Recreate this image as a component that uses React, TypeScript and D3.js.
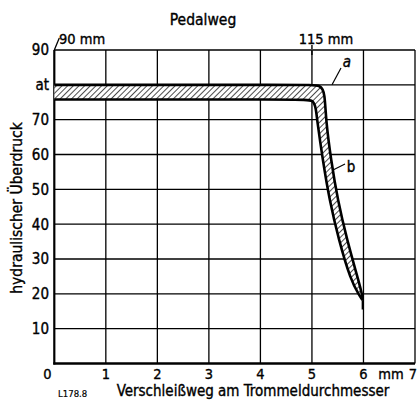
import * as d3 from 'd3';

const width = 417;
const height = 400;

// grid / tick values
const xTicks = [0, 1, 2, 3, 4, 5, 6, 7];
const yTicks = [10, 20, 30, 40, 50, 60, 70, 80, 90];
const yLabels = ['10', '20', '30', '40', '50', '60', '70', 'at', '90'];
const xLabels = ['0', '1', '2', '3', '4', '5', '6', '7'];

// upper boundary (a) and lower boundary (b) of the hatched band
const curveA: [number, number][] = [
  [0, 80], [4.9, 80], [5.18, 80], [5.25, 77.5], [5.27, 70],
  [5.37, 58.4], [5.5, 46.9], [5.68, 35.5], [5.9, 24], [5.98, 19.5], [5.98, 18.2],
];
const curveB: [number, number][] = [
  [0, 75.8], [4.85, 75.8], [5.03, 75.7], [5.08, 73], [5.1, 69.9],
  [5.21, 58.4], [5.34, 46.9], [5.52, 35.5], [5.75, 24], [5.92, 19.5], [5.98, 18.2],
];
const tip: [number, number][] = [[5.98, 18.2], [5.98, 15.5]];

const font = '"DejaVu Sans Condensed", "DejaVu Sans", sans-serif';

function App() {
  const x = d3.scaleLinear().domain([0, 7]).range([54.3, 415]);
  const y = d3.scaleLinear().domain([0, 90]).range([363.5, 50]);

  const line = d3
    .line<[number, number]>()
    .x(d => x(d[0]))
    .y(d => y(d[1]))
    .curve(d3.curveBasis);

  const band = line(curveA) + ' L' + line(curveB.slice().reverse())!.slice(1) + ' Z';

  const txt = {fill: '#000', stroke: '#000', strokeWidth: 0.35};

  return (
    <svg
      width={width}
      height={height}
      style={{position: 'absolute', left: 0, top: 0, background: '#fff'}}
      fontFamily={font}
    >
      <defs>
        <pattern id="hatch" width="4" height="4" patternUnits="userSpaceOnUse" patternTransform="rotate(45)">
          <line x1="0" y1="0" x2="0" y2="4" stroke="#000" strokeWidth="1.4" />
        </pattern>
      </defs>

      {/* grid */}
      {yTicks.map(t => (
        <line key={'h' + t} x1={x(0)} x2={x(7)} y1={y(t)} y2={y(t)} stroke="#000" strokeWidth={1.3} />
      ))}
      {xTicks.slice(1).map(t => (
        <line key={'v' + t} x1={x(t)} x2={x(t)} y1={y(0)} y2={y(90)} stroke="#000" strokeWidth={1.3} />
      ))}
      <line x1={x(0)} x2={x(0)} y1={y(0) + 1} y2={y(90)} stroke="#000" strokeWidth={2.2} />
      <line x1={x(0) - 1} x2={x(7)} y1={y(0)} y2={y(0)} stroke="#000" strokeWidth={2.4} />

      {/* band */}
      <path d={band} fill="#fff" />
      <path d={band} fill="url(#hatch)" />
      <path d={line(curveA)!} fill="none" stroke="#000" strokeWidth={2.6} />
      <path d={line(curveB)!} fill="none" stroke="#000" strokeWidth={2.6} />
      <path d={line(tip)!} fill="none" stroke="#000" strokeWidth={1.6} />

      {/* y tick labels */}
      {yTicks.map((t, i) => (
        <text key={'yl' + t} x={49} y={y(t)} dy="0.36em" textAnchor="end" fontSize={15} {...txt}>
          {yLabels[i]}
        </text>
      ))}

      {/* x tick labels */}
      {xTicks.map((t, i) => (
        <text
          key={'xl' + t}
          x={t === 0 ? x(0) - 7 : t === 7 ? x(7) - 2 : x(t)}
          y={379}
          textAnchor="middle"
          fontSize={14.5}
          {...txt}
        >
          {xLabels[i]}
        </text>
      ))}
      <text x={391} y={379} textAnchor="middle" fontSize={14.5} {...txt}>mm</text>

      {/* titles */}
      <text x={203} y={25} textAnchor="middle" fontSize={15.5} {...txt}>Pedalweg</text>
      <text x={253} y={396} textAnchor="middle" fontSize={15} {...txt}>Verschleißweg am Trommeldurchmesser</text>
      <text x={58} y={397} fontSize={9.5} {...txt} strokeWidth={0.2}>L178.8</text>
      <text
        transform={`translate(22, 208) rotate(-90)`}
        textAnchor="middle"
        fontSize={15.5}
        {...txt}
      >
        hydraulischer Überdruck
      </text>

      {/* Pedalweg marks */}
      <line x1={x(0)} y1={y(90)} x2={x(0) + 5} y2={38} stroke="#000" strokeWidth={1.3} />
      <text x={59} y={44} fontSize={14.5} {...txt}>90 mm</text>
      <line x1={x(5)} y1={45} x2={x(5)} y2={57} stroke="#000" strokeWidth={1.4} strokeDasharray="4 2" />
      <text x={326} y={44} textAnchor="middle" fontSize={14.5} {...txt}>115 mm</text>

      {/* curve labels */}
      <line x1={332} y1={y(80)} x2={341} y2={68} stroke="#000" strokeWidth={1.2} />
      <text x={347} y={67} textAnchor="middle" fontSize={15} fontStyle="italic" {...txt}>a</text>
      <line x1={333} y1={170} x2={345} y2={164} stroke="#000" strokeWidth={1.2} />
      <text x={351} y={172} textAnchor="middle" fontSize={15} {...txt}>b</text>
    </svg>
  );
}

export default App;
